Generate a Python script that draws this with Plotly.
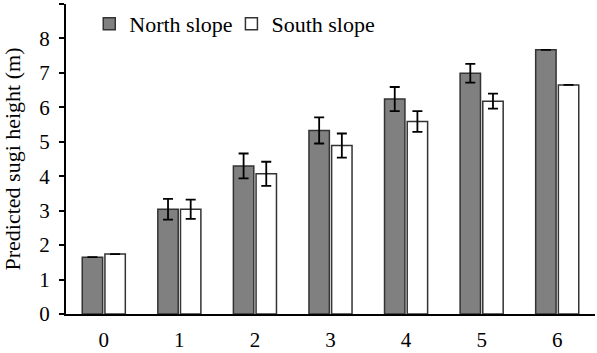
import plotly.graph_objects as go

categories = ["0", "1", "2", "3", "4", "5", "6"]
north = [1.65, 3.04, 4.30, 5.33, 6.24, 6.99, 7.67]
south = [1.74, 3.04, 4.07, 4.89, 5.59, 6.18, 6.65]
north_err = [None, 0.30, 0.36, 0.38, 0.35, 0.27, None]
south_err = [None, 0.28, 0.35, 0.35, 0.30, 0.22, None]

tfont = dict(family="Liberation Serif", size=21, color="black")
lfont = dict(family="Liberation Serif", size=22, color="black")

fig = go.Figure()
fig.add_trace(go.Bar(
    x=categories, y=north, name="North slope", legend="legend",
    marker=dict(color="#808080", line=dict(color="#333333", width=1.5)),
    error_y=dict(type="data", array=north_err, visible=True, color="black", thickness=1.8, width=5),
))
fig.add_trace(go.Bar(
    x=categories, y=south, name="South slope", legend="legend2",
    marker=dict(color="white", line=dict(color="#333333", width=1.5)),
    error_y=dict(type="data", array=south_err, visible=True, color="black", thickness=1.8, width=5),
))

leg_common = dict(orientation="h", y=1.0035, xanchor="left", yanchor="top",
                  bgcolor="rgba(0,0,0,0)", font=lfont, itemwidth=30)

fig.update_layout(
    width=597, height=353,
    margin=dict(l=66, r=2, t=4, b=39),
    paper_bgcolor="white", plot_bgcolor="white",
    font=tfont,
    barmode="group", bargap=0.4, bargroupgap=0.1,
    showlegend=True,
    legend=dict(x=0.044, **leg_common),
    legend2=dict(x=0.3127, **leg_common),
    xaxis=dict(showline=True, linecolor="black", linewidth=2, ticks="", showgrid=False,
               zeroline=False, tickfont=tfont, range=[-0.5, 6.5], ticklabelstandoff=6),
    yaxis=dict(range=[0, 9], dtick=1, showline=True, linecolor="black", linewidth=2,
               ticks="outside", ticklen=5, tickwidth=2, tickcolor="black", showgrid=False,
               zeroline=False, tickfont=tfont, ticklabelstandoff=5,
               title=dict(text="Predicted sugi height (m)", font=lfont, standoff=13)),
)

fig.write_html("out.html")
